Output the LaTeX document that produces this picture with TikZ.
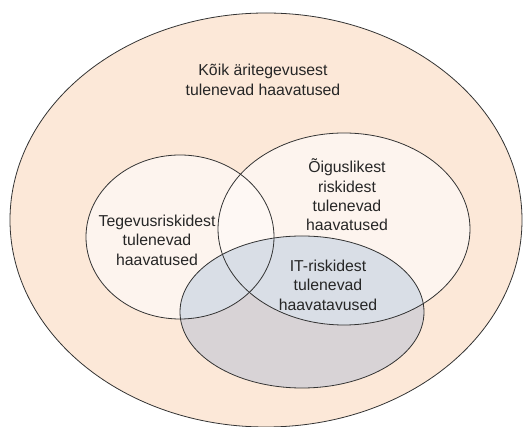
\documentclass[tikz,border=0pt]{standalone}
\usepackage{fontspec}
\setmainfont{Liberation Sans}
\begin{document}
\begin{tikzpicture}[x=1pt,y=-1pt,
  rim/.style={draw=black!80, line width=0.8pt},
  label/.style={align=center, font=\fontsize{15.8}{19.4}\selectfont, text=black!85, inner sep=0pt}]
  \definecolor{peach}{HTML}{FCE8D8}
  \definecolor{cream}{HTML}{FDF4EE}
  \definecolor{paler}{HTML}{FEF8F4}
  \definecolor{itgrey}{HTML}{D8D3D6}
  \definecolor{itblue}{HTML}{D9DEE6}
  \useasboundingbox (0,0) rectangle (531,427);
  % ellipse geometry
  \def\outerE{(266,220) ellipse [x radius=256, y radius=207]}
  \def\leftE{(180,237) ellipse [x radius=94, y radius=82]}
  \def\rightE{(344,229) ellipse [x radius=126, y radius=96]}
  \def\itE{(302,312) ellipse [x radius=122, y radius=76]}
  % fills
  \fill[peach] \outerE;
  \fill[cream] \leftE;
  \fill[cream] \rightE;
  \begin{scope}
    \clip \leftE;
    \fill[paler] \rightE;
  \end{scope}
  \fill[itgrey] \itE;
  \begin{scope}
    \clip \itE;
    \fill[itblue] \leftE;
    \fill[itblue] \rightE;
  \end{scope}
  % outlines
  \draw[rim] \outerE;
  \draw[rim] \leftE;
  \draw[rim] \rightE;
  \draw[rim] \itE;
  % labels
  \node[label] (all) at (263,80) {Kõik äritegevusest\\tulenevad haavatused};
  \node[label] (oper) at (157,240) {Tegevusriskidest\\tulenevad\\haavatused};
  \node[label] (legal) at (347,195) {Õiguslikest\\riskidest\\tulenevad\\haavatused};
  \node[label] (it) at (328,285) {IT-riskidest\\tulenevad\\haavatavused};
\end{tikzpicture}
\end{document}
